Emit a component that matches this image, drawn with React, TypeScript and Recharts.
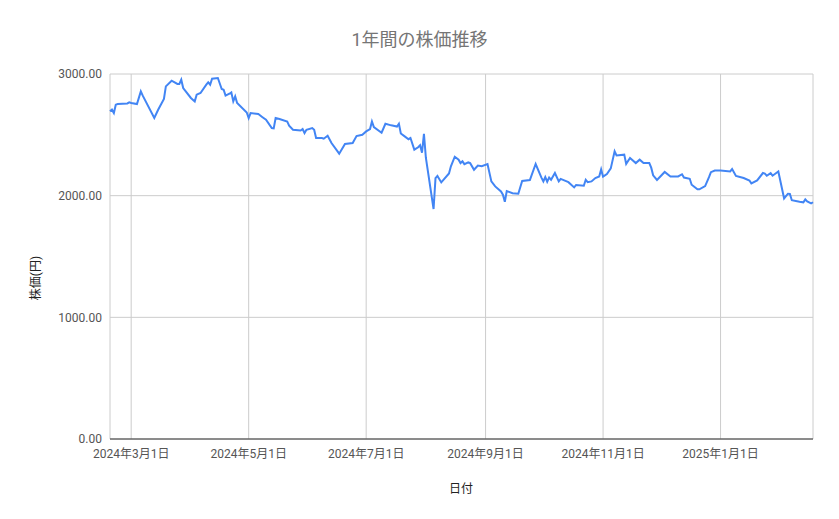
import { CartesianGrid, Line, LineChart, XAxis, YAxis } from "recharts";

// 日付 (trading days)
const dates = [
	"2024-02-19", "2024-02-20", "2024-02-21", "2024-02-22", "2024-02-23", "2024-02-28", "2024-02-29", "2024-03-01",
	"2024-03-04", "2024-03-06", "2024-03-07", "2024-03-13", "2024-03-15", "2024-03-18", "2024-03-19", "2024-03-22",
	"2024-03-25", "2024-03-26", "2024-03-27", "2024-03-28", "2024-04-01", "2024-04-03", "2024-04-04", "2024-04-06",
	"2024-04-09", "2024-04-10", "2024-04-11", "2024-04-12", "2024-04-15", "2024-04-17", "2024-04-18", "2024-04-19",
	"2024-04-21", "2024-04-22", "2024-04-23", "2024-04-24", "2024-04-25", "2024-04-30", "2024-05-01", "2024-05-02",
	"2024-05-06", "2024-05-08", "2024-05-10", "2024-05-13", "2024-05-14", "2024-05-15", "2024-05-17", "2024-05-21",
	"2024-05-22", "2024-05-24", "2024-05-28", "2024-05-29", "2024-05-30", "2024-05-31", "2024-06-03", "2024-06-04",
	"2024-06-05", "2024-06-08", "2024-06-09", "2024-06-11", "2024-06-13", "2024-06-17", "2024-06-20", "2024-06-24",
	"2024-06-26", "2024-06-29", "2024-07-01", "2024-07-03", "2024-07-04", "2024-07-05", "2024-07-09", "2024-07-11",
	"2024-07-14", "2024-07-17", "2024-07-18", "2024-07-19", "2024-07-21", "2024-07-23", "2024-07-24", "2024-07-26",
	"2024-07-28", "2024-07-29", "2024-07-30", "2024-07-31", "2024-08-01", "2024-08-05", "2024-08-06", "2024-08-07",
	"2024-08-09", "2024-08-13", "2024-08-14", "2024-08-16", "2024-08-18", "2024-08-19", "2024-08-20", "2024-08-21",
	"2024-08-23", "2024-08-24", "2024-08-26", "2024-08-28", "2024-08-30", "2024-09-02", "2024-09-04", "2024-09-06",
	"2024-09-09", "2024-09-10", "2024-09-11", "2024-09-12", "2024-09-15", "2024-09-18", "2024-09-20", "2024-09-24",
	"2024-09-27", "2024-09-30", "2024-10-01", "2024-10-02", "2024-10-03", "2024-10-04", "2024-10-05", "2024-10-07",
	"2024-10-09", "2024-10-10", "2024-10-14", "2024-10-17", "2024-10-18", "2024-10-22", "2024-10-23", "2024-10-24",
	"2024-10-26", "2024-10-28", "2024-10-30", "2024-10-31", "2024-11-01", "2024-11-03", "2024-11-05", "2024-11-07",
	"2024-11-08", "2024-11-12", "2024-11-13", "2024-11-15", "2024-11-18", "2024-11-20", "2024-11-22", "2024-11-25",
	"2024-11-26", "2024-11-27", "2024-11-29", "2024-12-03", "2024-12-06", "2024-12-10", "2024-12-12", "2024-12-13",
	"2024-12-16", "2024-12-17", "2024-12-20", "2024-12-21", "2024-12-24", "2024-12-26", "2024-12-27", "2024-12-29",
	"2025-01-01", "2025-01-06", "2025-01-07", "2025-01-09", "2025-01-13", "2025-01-16", "2025-01-17", "2025-01-20",
	"2025-01-23", "2025-01-24", "2025-01-25", "2025-01-27", "2025-01-28", "2025-01-31", "2025-02-03", "2025-02-05",
	"2025-02-06", "2025-02-07", "2025-02-11", "2025-02-13", "2025-02-14", "2025-02-15", "2025-02-17", "2025-02-18",
];

// 株価 (円)
const prices = [
	2693, 2707, 2679, 2748, 2753, 2758, 2767, 2762,
	2753, 2857, 2822, 2638, 2706, 2795, 2898, 2945,
	2918, 2918, 2953, 2885, 2803, 2775, 2830, 2844,
	2912, 2931, 2912, 2961, 2967, 2877, 2871, 2822,
	2838, 2849, 2775, 2816, 2762, 2684, 2638, 2679,
	2671, 2647, 2624, 2556, 2553, 2638, 2630, 2610,
	2575, 2542, 2536, 2548, 2515, 2542, 2556, 2542,
	2474, 2474, 2468, 2493, 2433, 2345, 2425, 2433,
	2490, 2501, 2528, 2548, 2610, 2563, 2517, 2591,
	2578, 2568, 2591, 2511, 2487, 2464, 2474, 2378,
	2398, 2415, 2353, 2509, 2312, 1890, 2144, 2162,
	2109, 2183, 2241, 2320, 2296, 2268, 2282, 2259,
	2273, 2267, 2213, 2248, 2242, 2260, 2117, 2076,
	2035, 2008, 1950, 2038, 2020, 2016, 2121, 2129,
	2260, 2148, 2117, 2153, 2115, 2149, 2131, 2186,
	2117, 2138, 2111, 2068, 2088, 2082, 2131, 2111,
	2117, 2145, 2158, 2216, 2156, 2178, 2224, 2364,
	2330, 2337, 2261, 2310, 2268, 2296, 2268, 2268,
	2230, 2167, 2129, 2195, 2158, 2158, 2176, 2149,
	2139, 2090, 2052, 2052, 2079, 2152, 2193, 2207,
	2207, 2199, 2219, 2162, 2145, 2125, 2101, 2125,
	2186, 2181, 2164, 2185, 2164, 2199, 1977, 2016,
	2015, 1963, 1950, 1945, 1969, 1952, 1936, 1946,
];

const xTickDates = ["2024-03-01", "2024-05-01", "2024-07-01", "2024-09-01", "2024-11-01", "2025-01-01"];
const yTicks = [0, 1000, 2000, 3000];
const xRange = ["2024-02-19", "2025-02-18"];

const toTime = (s: string) => new Date(`${s}T00:00:00Z`).getTime();

const data = dates.map((d, i) => ({ t: toTime(d), price: prices[i] }));

const formatDate = (v: number) => {
	const d = new Date(v);
	return `${d.getUTCFullYear()}年${d.getUTCMonth() + 1}月${d.getUTCDate()}日`;
};

const FONT = "Roboto, 'Noto Sans CJK JP', sans-serif";

export default function App() {
	return (
		<div
			style={{
				position: "fixed",
				left: 0,
				top: 0,
				width: 839,
				height: 519,
				background: "#fff",
				fontFamily: FONT,
			}}
		>
			<div
				style={{
					position: "absolute",
					top: 29,
					left: 0,
					width: 839,
					textAlign: "center",
					fontSize: 18,
					lineHeight: "22px",
					color: "#757575",
				}}
			>
				1年間の株価推移
			</div>
			<LineChart
				width={839}
				height={519}
				data={data}
				margin={{ top: 74, right: 26, bottom: 50, left: 0 }}
			>
				<CartesianGrid stroke="#cccccc" strokeWidth={1} />
				<XAxis
					type="number"
					dataKey="t"
					domain={[toTime(xRange[0]), toTime(xRange[1])]}
					ticks={xTickDates.map(toTime)}
					tickFormatter={formatDate}
					height={30}
					tickLine={false}
					tickMargin={4}
					axisLine={{ stroke: "#333333", strokeWidth: 1 }}
					tick={{ fill: "#555555", fontSize: 12, fontFamily: FONT }}
				/>
				<YAxis
					type="number"
					domain={[0, 3000]}
					ticks={yTicks}
					tickFormatter={(v: number) => v.toFixed(2)}
					width={110}
					axisLine={false}
					tickLine={false}
					tick={{ fill: "#555555", fontSize: 12, fontFamily: FONT }}
				/>
				<Line
					type="linear"
					dataKey="price"
					stroke="#4285f4"
					strokeWidth={2}
					dot={false}
					isAnimationActive={false}
				/>
			</LineChart>
			<div
				style={{
					position: "absolute",
					left: 34,
					top: 278,
					transform: "translate(-50%, -50%) rotate(-90deg)",
					fontSize: 12,
					color: "#222222",
					whiteSpace: "nowrap",
				}}
			>
				株価(円)
			</div>
			<div
				style={{
					position: "absolute",
					left: 461,
					top: 487,
					transform: "translate(-50%, -50%)",
					fontSize: 12,
					color: "#222222",
					whiteSpace: "nowrap",
				}}
			>
				日付
			</div>
		</div>
	);
}
